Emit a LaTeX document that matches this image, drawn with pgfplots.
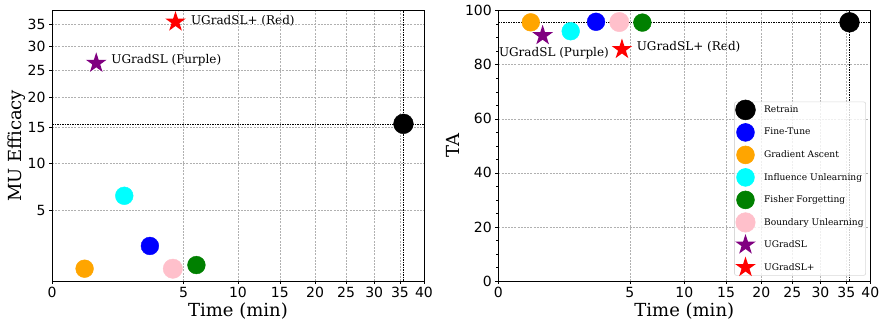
\documentclass[border=0pt]{standalone}
\usepackage{fontspec}
\setmainfont{DejaVu Serif}
\newfontfamily\ticksans{DejaVu Sans}
\usepackage{pgfplots}
\pgfplotsset{compat=1.18}

\definecolor{mporange}{HTML}{FFA500}
\definecolor{mpblue}{HTML}{0000FF}
\definecolor{mpcyan}{HTML}{00FFFF}
\definecolor{mpgreen}{HTML}{008000}
\definecolor{mppink}{HTML}{FFC0CB}
\definecolor{mppurple}{HTML}{800080}
\definecolor{mpred}{HTML}{FF0000}
\definecolor{gridgray}{HTML}{B0B0B0}

\pgfdeclareplotmark{fstar}{%
  \pgfpathmoveto{\pgfpointpolar{90}{\pgfplotmarksize}}%
  \pgfpathlineto{\pgfpointpolar{126}{0.382\pgfplotmarksize}}%
  \pgfpathlineto{\pgfpointpolar{162}{\pgfplotmarksize}}%
  \pgfpathlineto{\pgfpointpolar{198}{0.382\pgfplotmarksize}}%
  \pgfpathlineto{\pgfpointpolar{234}{\pgfplotmarksize}}%
  \pgfpathlineto{\pgfpointpolar{270}{0.382\pgfplotmarksize}}%
  \pgfpathlineto{\pgfpointpolar{306}{\pgfplotmarksize}}%
  \pgfpathlineto{\pgfpointpolar{342}{0.382\pgfplotmarksize}}%
  \pgfpathlineto{\pgfpointpolar{18}{\pgfplotmarksize}}%
  \pgfpathlineto{\pgfpointpolar{54}{0.382\pgfplotmarksize}}%
  \pgfpathclose
  \pgfusepathqfill
}

\pgfplotsset{
  base/.style={
    scale only axis, width=372pt, height=270.3pt, anchor=south west,
    axis on top,
    x coord trafo/.code={\pgfmathparse{sqrt(##1)}},
    x coord inv trafo/.code={\pgfmathparse{(##1)^2}},
    xmin=0, xmax=40,
    xtick={0,5,10,15,20,25,30,35,40},
    xticklabels={0,5,10,15,20,25,30,35,40},
    xtick pos=left, ytick pos=left,
    tick align=outside, major tick length=3pt,
    tick style={black, line width=0.6pt},
    axis line style={black, line width=0.8pt},
    xmajorgrids,
    major grid style={gridgray, line width=0.6pt, dash pattern=on 2pt off 1.2pt},
    /pgf/number format/assume math mode=true,
    tick label style={font=\ticksans\fontsize{14}{14}\selectfont},
    label style={font=\fontsize{18}{18}\selectfont},
    xlabel={Time (min)},
    xlabel style={at={(axis description cs:0.5,0)}, anchor=base, yshift=-35.7pt},
  },
  dot/.style={only marks, mark=*, mark size=#1},
  refl/.style={black, line width=0.6pt, dash pattern=on 1.5pt off 1pt, forget plot},
  gridl/.style={gridgray, line width=0.6pt, dash pattern=on 2pt off 1.2pt, forget plot},
}

\begin{document}
\begin{tikzpicture}[x=1pt,y=1pt]
% ---------- left panel ----------
\begin{axis}[base, at={(52pt,40pt)},
  ymajorgrids,
  y coord trafo/.code={\pgfmathparse{sqrt(#1)}},
  y coord inv trafo/.code={\pgfmathparse{(#1)^2}},
  ymin=0.686, ymax=38.3,
  ytick={5,10,15,20,25,30,35},
  yticklabels={5,10,15,20,25,30,35},
  ylabel={MU Efficacy},
  ylabel style={at={(axis description cs:-0.095,0.5)}, anchor=center},
]
\addplot[dot=9.9pt, black] coordinates {(35.7,15.56)};
\addplot[dot=8.9pt, mpblue] coordinates {(2.77,2.32)};
\addplot[dot=8.9pt, mporange] coordinates {(0.307,1.15)};
\addplot[dot=8.9pt, mpcyan] coordinates {(1.51,6.34)};
\addplot[dot=8.9pt, mpgreen] coordinates {(6.03,1.31)};
\addplot[dot=9.7pt, mppink] coordinates {(4.22,1.15)};
\addplot[only marks, mark=fstar, mark size=10.8pt, mppurple] coordinates {(0.566,26.5)};
\addplot[only marks, mark=fstar, mark size=10.8pt, mpred] coordinates {(4.41,35.6)};
\addplot[refl] coordinates {(0,15.56) (40,15.56)};
\addplot[refl] coordinates {(35.7,0.686) (35.7,38.3)};
\node[anchor=west, inner sep=0pt, font=\fontsize{12}{12}\selectfont, xshift=15.4pt, yshift=1pt] at (axis cs:4.41,35.6) {UGradSL+ (Red)};
\node[anchor=west, inner sep=0pt, font=\fontsize{12}{12}\selectfont, xshift=15pt, yshift=2.7pt] at (axis cs:0.566,26.5) {UGradSL (Purple)};
\end{axis}
% ---------- right panel ----------
\begin{axis}[base, at={(498.3pt,40pt)},
  ymin=0, ymax=100,
  ytick={0,20,40,60,80,100},
  extra y ticks={5,10,15,25,30,35,45,50,55,65,70,75,85,90,95},
  extra y tick labels={},
  extra y tick style={major tick length=2pt, tick style={line width=0.5pt}},
  ylabel={TA},
  ylabel style={at={(axis description cs:-0.121,0.5)}, anchor=center},
  legend cell align=left,
  legend style={at={(rel axis cs:0.9884,0.0196)}, anchor=south east,
    draw=black!15, line width=0.6pt, fill=white, fill opacity=0.8, draw opacity=1, text opacity=1,
    rounded corners=2pt, font=\fontsize{9.1}{10}\selectfont,
    inner sep=0pt, row sep=6.5pt, column sep=5.6pt},
  legend image code/.code={\path[draw=none, fill=none] (-11pt,-8pt) rectangle (11pt,8pt);
    \draw[#1, overlay, fill opacity=1, draw opacity=1, sharp corners] plot coordinates {(0pt,0pt)};},
]
\addplot[gridl] coordinates {(0,20) (40,20)};
\addplot[gridl] coordinates {(0,40) (40,40)};
\addplot[gridl] coordinates {(0,60) (40,60)};
\addplot[gridl] coordinates {(0,80) (40,80)};
\addplot[dot=9.9pt, black] coordinates {(35.65,95.7)};
\addlegendentry{Retrain}
\addplot[dot=8.9pt, mpblue] coordinates {(2.76,95.9)};
\addlegendentry{Fine-Tune}
\addplot[dot=8.9pt, mporange] coordinates {(0.305,95.7)};
\addlegendentry{Gradient Ascent}
\addplot[dot=8.9pt, mpcyan] coordinates {(1.515,92.4)};
\addlegendentry{Influence Unlearning}
\addplot[dot=8.9pt, mpgreen] coordinates {(6.0,95.6)};
\addlegendentry{Fisher Forgetting}
\addplot[dot=9.7pt, mppink] coordinates {(4.23,95.8)};
\addlegendentry{Boundary Unlearning}
\addplot[only marks, mark=fstar, mark size=10.8pt, mppurple] coordinates {(0.568,90.8)};
\addlegendentry{UGradSL}
\addplot[only marks, mark=fstar, mark size=10.8pt, mpred] coordinates {(4.42,85.7)};
\addlegendentry{UGradSL+}
\addplot[refl] coordinates {(0,95.7) (40,95.7)};
\addplot[refl] coordinates {(35.65,0) (35.65,100)};
\node[anchor=west, inner sep=0pt, font=\fontsize{12}{12}\selectfont, xshift=14.7pt, yshift=2.3pt] at (axis cs:4.42,85.7) {UGradSL+ (Red)};
\node[anchor=center, inner sep=0pt, font=\fontsize{12}{12}\selectfont, xshift=11.3pt, yshift=-17.6pt] at (axis cs:0.568,90.8) {UGradSL (Purple)};
\end{axis}
\pgfresetboundingbox
\useasboundingbox (0,0) rectangle (881pt,321pt);
\end{tikzpicture}
\end{document}
